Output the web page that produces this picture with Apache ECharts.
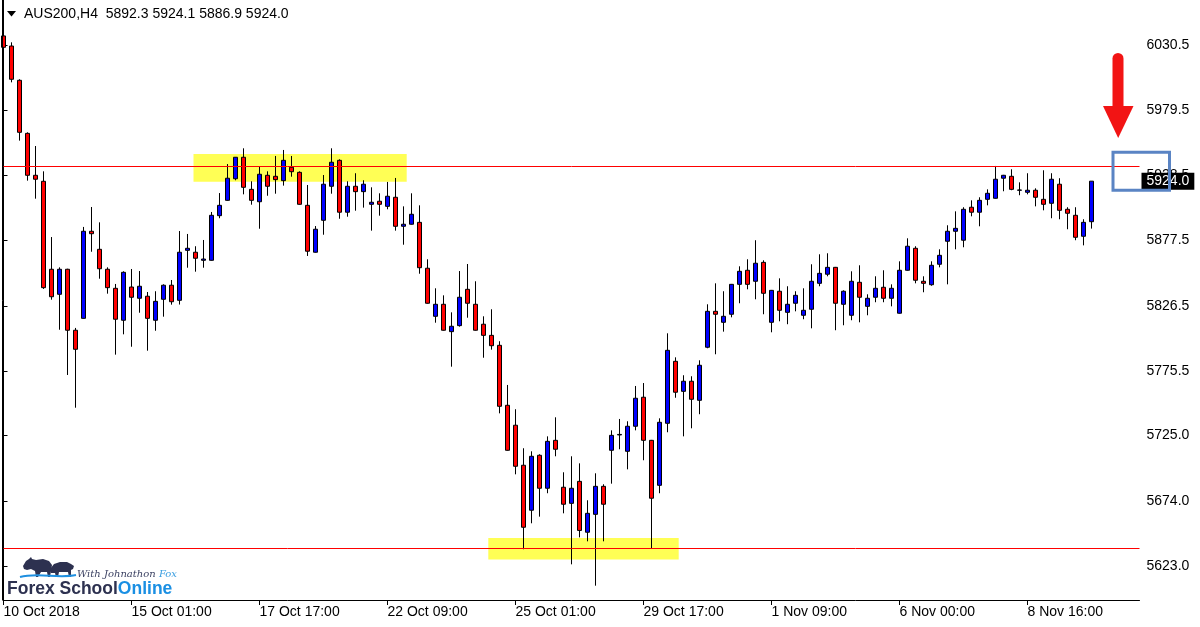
<!DOCTYPE html>
<html><head><meta charset="utf-8">
<script src="https://cdn.jsdelivr.net/npm/echarts@6/dist/echarts.min.js"></script>
<style>html,body{margin:0;padding:0;background:#fff}#c{width:1200px;height:627px}</style>
</head><body><div id="c"></div>
<script>
// ---- data (H4 candles) ----
const openP = [6037.6,6029.7,6002.9,5961.4,5928.6,5923.9,5855.1,5835.5,5855.1,5807.4,
5816.7,5884.8,5870.7,5855.1,5840.2,5815.2,5841.2,5832.4,5834.0,5815.2,
5831.6,5842.6,5830.8,5869.9,5868.4,5862.1,5862.1,5897.0,5909.0,5925.9,
5942.7,5917.6,5907.9,5928.6,5927.8,5924.4,5934.9,5930.9,5905.1,5868.4,
5893.4,5920.0,5940.3,5899.7,5920.0,5915.8,5905.9,5908.3,5904.3,5911.4,
5888.7,5890.3,5891.8,5855.9,5818.3,5827.7,5806.3,5811.0,5839.4,5827.7,
5812.1,5803.4,5795.6,5748.7,5733.1,5701.8,5666.6,5709.6,5683.8,5721.3,
5684.6,5672.0,5689.2,5649.4,5663.4,5685.3,5713.5,5725.5,5712.7,5732.3,
5755.0,5721.3,5686.1,5734.6,5783.1,5759.6,5767.5,5752.6,5794.1,5822.2,
5813.6,5819.9,5843.3,5854.3,5845.7,5860.5,5813.6,5837.9,5821.4,5828.5,
5819.1,5823.8,5844.1,5851.2,5856.6,5827.7,5819.1,5844.9,5826.1,5833.2,
5841.0,5832.4,5820.7,5854.3,5871.5,5845.7,5843.0,5859.0,5877.0,5884.8,
5877.8,5903.6,5899.7,5909.8,5910.6,5926.3,5927.8,5916.9,5915.3,5916.9,
5909.8,5906.7,5921.6,5902.0,5897.3,5880.9,5892.3];
const highP = [6040.9,6032.6,6003.7,5962.2,5951.5,5931.7,5880.3,5856.6,5855.5,5809.2,
5888.2,5903.8,5891.8,5856.6,5843.6,5853.5,5855.3,5853.7,5837.3,5837.9,
5843.3,5846.7,5885.0,5882.7,5873.1,5878.0,5899.9,5914.7,5937.4,5942.9,
5949.7,5923.9,5935.3,5931.7,5943.7,5948.4,5943.7,5931.7,5921.0,5888.9,
5928.8,5949.7,5941.1,5923.9,5930.2,5924.7,5919.2,5914.5,5923.4,5926.5,
5904.3,5914.5,5905.1,5862.9,5840.2,5834.7,5821.4,5853.7,5859.2,5845.7,
5818.3,5823.8,5798.8,5764.6,5745.6,5715.1,5712.7,5710.4,5724.4,5739.3,
5696.3,5708.8,5703.3,5674.4,5695.5,5686.9,5729.1,5738.0,5736.2,5763.8,
5766.1,5721.6,5738.5,5805.0,5786.2,5772.2,5771.4,5783.9,5827.7,5844.1,
5837.9,5843.6,5857.4,5862.9,5877.8,5862.1,5838.9,5848.0,5841.8,5837.9,
5840.2,5859.0,5866.8,5867.6,5856.9,5838.6,5853.5,5858.2,5835.5,5849.6,
5854.3,5843.3,5861.3,5879.3,5873.1,5849.6,5861.3,5870.7,5889.5,5900.4,
5903.6,5909.0,5911.4,5917.6,5935.9,5928.9,5933.3,5923.1,5930.2,5918.4,
5932.5,5930.2,5926.3,5903.6,5903.6,5894.2,5924.1];
const lowP = [6021.4,6001.3,5955.7,5924.4,5910.3,5839.7,5831.3,5807.8,5772.4,5746.8,
5816.4,5868.8,5847.7,5836.0,5788.3,5804.2,5794.5,5821.1,5791.4,5807.0,
5818.0,5827.4,5827.5,5856.3,5853.2,5856.3,5861.8,5895.0,5908.7,5924.7,
5913.7,5905.6,5886.8,5912.6,5914.2,5920.5,5927.5,5905.6,5865.5,5868.1,
5882.1,5914.2,5894.6,5896.2,5900.9,5903.3,5885.3,5897.0,5902.0,5885.3,
5874.3,5890.0,5851.6,5828.2,5813.3,5807.1,5778.9,5810.2,5817.2,5807.1,
5785.9,5792.2,5742.4,5713.2,5694.7,5636.1,5656.4,5661.6,5679.9,5708.8,
5664.2,5624.3,5645.4,5642.3,5607.6,5642.3,5687.4,5714.3,5698.6,5729.1,
5705.7,5636.8,5679.9,5727.6,5754.6,5724.4,5730.7,5741.7,5793.3,5788.6,
5806.3,5817.5,5828.5,5839.4,5831.6,5819.9,5805.8,5814.4,5812.1,5822.2,
5816.0,5808.9,5841.8,5849.6,5807.4,5811.3,5815.2,5813.6,5819.1,5829.3,
5829.3,5826.1,5820.4,5854.0,5844.1,5837.1,5842.2,5856.6,5843.3,5870.7,
5872.3,5896.5,5888.7,5905.1,5910.3,5916.1,5916.9,5913.0,5913.7,5904.3,
5901.2,5895.0,5894.2,5886.4,5877.8,5873.8,5886.9];
const closeP = [6028.7,6003.7,5962.2,5928.6,5925.5,5840.7,5833.6,5855.1,5807.4,5792.5,
5884.8,5882.9,5855.5,5840.7,5816.0,5852.7,5833.2,5841.8,5816.7,5830.0,
5842.6,5829.7,5868.4,5871.5,5863.7,5863.1,5897.3,5905.1,5926.3,5942.7,
5919.2,5909.0,5929.4,5920.0,5925.2,5940.3,5931.4,5905.9,5869.2,5886.4,
5921.6,5938.8,5899.7,5920.0,5915.8,5921.6,5907.5,5905.9,5912.2,5888.7,
5890.3,5898.1,5856.3,5828.5,5827.7,5807.4,5810.5,5833.2,5828.5,5807.4,
5803.4,5795.3,5747.9,5713.5,5701.0,5653.3,5708.8,5683.8,5720.5,5714.3,
5671.3,5683.8,5650.8,5664.2,5685.3,5671.3,5725.2,5725.9,5732.3,5754.2,
5721.3,5676.0,5735.4,5791.7,5758.9,5767.5,5753.4,5780.0,5822.2,5819.9,
5818.3,5843.3,5853.5,5843.3,5859.8,5836.3,5838.6,5823.0,5827.7,5834.7,
5823.0,5845.7,5851.9,5856.6,5828.5,5837.9,5845.7,5833.2,5832.4,5840.2,
5832.4,5840.2,5854.3,5873.1,5846.5,5844.1,5858.2,5866.0,5884.8,5887.1,
5902.0,5899.7,5909.0,5914.5,5925.5,5928.6,5917.6,5917.1,5916.9,5911.4,
5905.9,5925.5,5901.2,5898.9,5880.1,5891.8,5924.0];

const xTickLabels = ['10 Oct 2018','15 Oct 01:00','17 Oct 17:00','22 Oct 09:00','25 Oct 01:00','29 Oct 17:00','1 Nov 09:00','6 Nov 00:00','8 Nov 16:00'];
const xTickEvery = 16;
const emptySlots = 6;
const yTickValues = [5623.0,5674.0,5725.0,5775.5,5826.5,5877.5,5928.5,5979.5,6030.5];
const levelLines = [5935.9, 5636.8];
// zones: [startBar, topPrice, endBar, bottomPrice]
const zones = [[23.75,5945.3,50.4,5923.6],[60.6,5644.9,84.4,5628.1]];
const symbolName = 'AUS200,H4';

// ---- build ----
const last = openP.length - 1;
const nSlots = openP.length + emptySlots;
const cats = Array.from({length: nSlots}, (_, i) => String(i));
const candleData = openP.map((o, i) => [o, closeP[i], lowP[i], highP[i]]);
const lastClose = closeP[last];
const titleText = symbolName + '  ' + [openP[last], highP[last], lowP[last], closeP[last]].map(v => v.toFixed(1)).join(' ');

const gridTop = 0, gridBottomPx = 600;
const yMin = 5596.4, yMax = 6065.7;

const chart = echarts.init(document.getElementById('c'), null, {renderer: 'canvas'});
const FONT = 'Liberation Sans';
chart.setOption({
  animation: false,
  backgroundColor: '#fff',
  textStyle: {fontFamily: FONT},
  grid: {left: 3.5, right: 60.5, top: gridTop, bottom: 627 - gridBottomPx, containLabel: false},
  xAxis: [{
    type: 'category', data: cats, boundaryGap: false,
    axisLine: {show: true, onZero: false, lineStyle: {color: '#000', width: 1}},
    axisTick: {show: true, length: 5, interval: (i) => i % xTickEvery === 0, lineStyle: {color: '#000'}},
    axisLabel: {
      show: true, interval: (i) => i % xTickEvery === 0 && i / xTickEvery < xTickLabels.length,
      formatter: (v, i) => xTickLabels[Math.round(Number(v) / xTickEvery)] || '',
      align: 'left', fontSize: 14, color: '#000', fontFamily: FONT, margin: 5
    },
    splitLine: {show: false}
  }, {
    type: 'value', min: 0, max: nSlots - 1, show: false
  }],
  yAxis: {
    type: 'value', position: 'right', min: yMin, max: yMax,
    axisLine: {show: true, lineStyle: {color: '#000', width: 1}},
    axisTick: {show: true, length: 4, customValues: yTickValues, lineStyle: {color: '#000'}},
    axisLabel: {show: true, customValues: yTickValues, formatter: v => Number(v).toFixed(1), fontSize: 14, color: '#000', fontFamily: FONT, margin: 7},
    splitLine: {show: false}
  },
  series: [{
    type: 'custom', xAxisIndex: 1, z: 1, silent: true,
    data: zones,
    encode: {x: [0, 2], y: [1, 3]},
    renderItem: (params, api) => {
      const p0 = api.coord([api.value(0), api.value(1)]);
      const p1 = api.coord([api.value(2), api.value(3)]);
      return {type: 'rect', shape: {x: Math.min(p0[0], p1[0]), y: Math.min(p0[1], p1[1]), width: Math.abs(p1[0] - p0[0]), height: Math.abs(p1[1] - p0[1])}, style: {fill: '#ffff55'}};
    }
  }, {
    type: 'candlestick', xAxisIndex: 0, z: 2, clip: false,
    barWidth: 4,
    data: candleData,
    itemStyle: {color: '#0000ff', color0: '#ff0000', borderColor: '#000', borderColor0: '#000', borderWidth: 1},
    markLine: {
      silent: true, symbol: ['none', 'none'], animation: false,
      data: levelLines.map(v => ({yAxis: v, lineStyle: {color: '#ff0000', width: 1, type: 'solid'}, label: {show: false}}))
    }
  }, {
    type: 'line', xAxisIndex: 0, z: 5, data: [], silent: true,
    markLine: {
      silent: true, symbol: ['none', 'none'], animation: false,
      data: [{yAxis: lastClose, lineStyle: {color: 'rgba(0,0,0,0)', width: 0}, label: {show: true, position: 'end', distance: 2, formatter: lastClose.toFixed(1), backgroundColor: '#000', color: '#fff', fontSize: 14, fontFamily: FONT, padding: [2, 5, 1, 5]}}]
    }
  }],
  graphic: [
    {type: 'line', z: 50, shape: {x1: 2.5, y1: 0, x2: 2.5, y2: 600.5}, style: {stroke: '#000', lineWidth: 1}},
    {type: 'polygon', z: 50, shape: {points: [[7, 11], [16, 11], [11.5, 16.5]]}, style: {fill: '#000'}},
    {type: 'text', z: 50, x: 24, y: 14, style: {text: titleText, font: '14px "Liberation Sans"', fill: '#000', verticalAlign: 'middle'}},
    // annotation arrow and box
    {type: 'rect', z: 60, shape: {x: 1112.5, y: 53, width: 11, height: 57, r: [5.5, 5.5, 0, 0]}, style: {fill: '#f21414'}},
    {type: 'polygon', z: 60, shape: {points: [[1103, 106], [1133.5, 106], [1118.2, 138]]}, style: {fill: '#f21414'}},
    {type: 'rect', z: 60, shape: {x: 1113, y: 152.2, width: 56.5, height: 38}, style: {fill: 'none', stroke: '#5a84c4', lineWidth: 3}},
    // logo
    {type: 'polygon', z: 50, shape: {points: [[23,566],[26,561],[29,559],[31,557],[32,559],[36,560],[43,559],[49,561],[52,565],[51,571],[50,577],[48,577],[47,572],[41,572],[38,577],[36,577],[35,571],[31,569],[27,570],[24,569]]}, style: {fill: '#2d3150'}},
    {type: 'polygon', z: 50, shape: {points: [[50,569],[54,564],[60,562],[67,562],[71,564],[74,566],[73,569],[71,570],[71,577],[69,577],[68,572],[59,572],[58,577],[56,577],[55,573],[51,573]]}, style: {fill: '#2d3150'}},
    {type: 'bezierCurve', z: 51, shape: {x1: 20, y1: 577, x2: 76, y2: 575, cpx1: 38, cpy1: 572, cpx2: 58, cpy2: 579}, style: {stroke: '#1e8fe0', lineWidth: 2, fill: 'none'}},
    {type: 'text', z: 50, x: 77, y: 574, style: {text: '{a|With Johnathon }{b|Fox}', verticalAlign: 'middle', rich: {a: {font: 'italic 10px "DejaVu Serif"', fill: '#3c4263'}, b: {font: 'italic 10px "DejaVu Serif"', fill: '#3a9ee0'}}}},
    {type: 'text', z: 50, x: 7, y: 589, style: {text: '{a|Forex School}{b|Online}', verticalAlign: 'middle', rich: {a: {font: 'bold 17.5px "Liberation Sans"', fill: '#2d3150'}, b: {font: 'bold 17.5px "Liberation Sans"', fill: '#1a8fe3'}}}}
  ]
});
</script>
</body></html>
